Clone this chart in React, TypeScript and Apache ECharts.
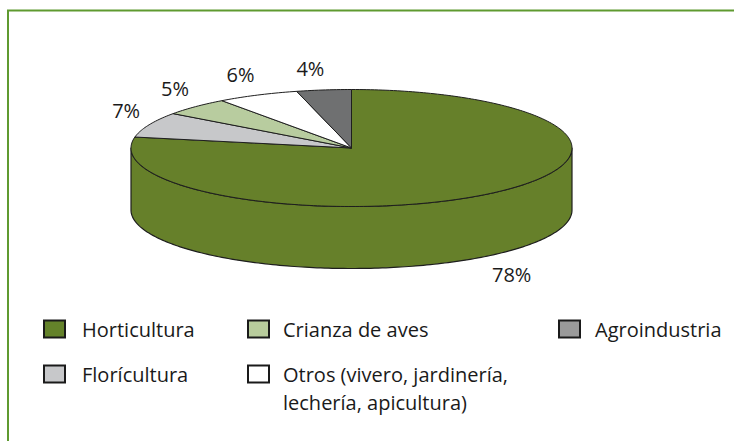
import React, { useEffect, useRef } from "react";
import * as echarts from "echarts";

const categories = [
  "Horticultura",
  "Florícultura",
  "Crianza de aves",
  "Otros (vivero, jardinería,\nlechería, apicultura)",
  "Agroindustria",
];
const values = [78, 7, 5, 6, 4];
const sliceColors = ["#66802a", "#c7c8ca", "#b8cc9f", "#ffffff", "#6f7071"];
const legendColors = ["#64822a", "#c7c8ca", "#b8cc9c", "#ffffff", "#9a9a9a"];

const FONT = '"Open Sans", "Noto Sans", sans-serif';

export default function App() {
  const ref = useRef<HTMLDivElement>(null);
  useEffect(() => {
    if (!ref.current) return;
    const chart = echarts.init(ref.current, null, { renderer: "svg" });

    const cx = 351.5, cy = 148, rx = 220.5, ry = 58.5, depth = 62;
    const total = values.reduce((a, b) => a + b, 0);
    const starts: number[] = [];
    let acc = 0;
    values.forEach((v) => { starts.push(acc); acc += (v / total) * 360; });
    const rad = (d: number) => (d * Math.PI) / 180;
    const pt = (a: number, dy = 0) => [cx + rx * Math.sin(rad(a)), cy - ry * Math.cos(rad(a)) + dy];
    const arc = (a0: number, a1: number, dy = 0) => {
      const pts: number[][] = [];
      const n = Math.max(2, Math.ceil((a1 - a0) / 1));
      for (let k = 0; k <= n; k++) pts.push(pt(a0 + ((a1 - a0) * k) / n, dy));
      return pts;
    };

    const renderItem = (params: any, api: any) => {
      const i = params.dataIndex;
      const v = api.value(0);
      const a0 = starts[i];
      const a1 = a0 + (v / total) * 360;
      const children: any[] = [];
      const w0 = Math.max(a0, 90), w1 = Math.min(a1, 270);
      if (w1 > w0) {
        const top = arc(w0, w1);
        const bot = arc(w0, w1, depth).reverse();
        children.push({
          type: "polygon",
          shape: { points: top.concat(bot) },
          style: { fill: sliceColors[i], stroke: "#1e1e1e", lineWidth: 1.2, lineJoin: "round" },
        });
      }
      children.push({
        type: "polygon",
        shape: { points: [[cx, cy]].concat(arc(a0, a1)) },
        style: { fill: sliceColors[i], stroke: "#1e1e1e", lineWidth: 1, lineJoin: "round" },
      });
      const m = (a0 + a1) / 2;
      const s = Math.sin(rad(m)), c = Math.cos(rad(m));
      const base = pt(m, c < 0 ? depth : 0);
      const lx = base[0] + s * 12 + Math.sign(s) * 12;
      const ly = base[1] - c * 12 - Math.sign(c) * 10;
      children.push({
        type: "text",
        x: lx,
        y: ly,
        style: {
          text: Math.round((v / total) * 100) + "%",
          fill: "#1a1a1a",
          fontSize: 20,
          fontFamily: FONT,
          align: "center",
          verticalAlign: "middle",
        },
      });
      return { type: "group", children };
    };

    const swatchX = [44, 248, 559];
    const textX = [82, 283, 595];
    const rowY = [329, 374];
    const legend: any[] = [];
    categories.forEach((name, i) => {
      const col = Math.floor(i / 2), row = i % 2;
      legend.push({
        type: "rect",
        shape: { x: swatchX[col], y: rowY[row] - 8.5, width: 21, height: 17 },
        style: { fill: legendColors[i], stroke: "#1a1a1a", lineWidth: 2 },
      });
      legend.push({
        type: "text",
        x: textX[col],
        y: rowY[row] - 14,
        style: {
          text: name,
          fill: "#1a1a1a",
          fontSize: 20,
          fontFamily: FONT,
          lineHeight: 28,
          align: "left",
          verticalAlign: "top",
        },
      });
    });

    chart.setOption({
      animation: false,
      backgroundColor: "#ffffff",
      graphic: [
        {
          type: "polyline",
          shape: { points: [[8, 445], [8, 10.5], [740, 10.5]] },
          style: { stroke: "#5f9a30", lineWidth: 2, fill: null },
        },
        ...legend,
      ],
      series: [
        {
          type: "custom",
          coordinateSystem: "none",
          renderItem,
          silent: true,
          data: values.map((v, i) => ({ value: v, name: categories[i] })),
        },
      ],
    });
    return () => chart.dispose();
  }, []);
  return (
    <div
      ref={ref}
      style={{ position: "fixed", left: 0, top: 0, width: 734, height: 441, background: "#fff" }}
    />
  );
}
